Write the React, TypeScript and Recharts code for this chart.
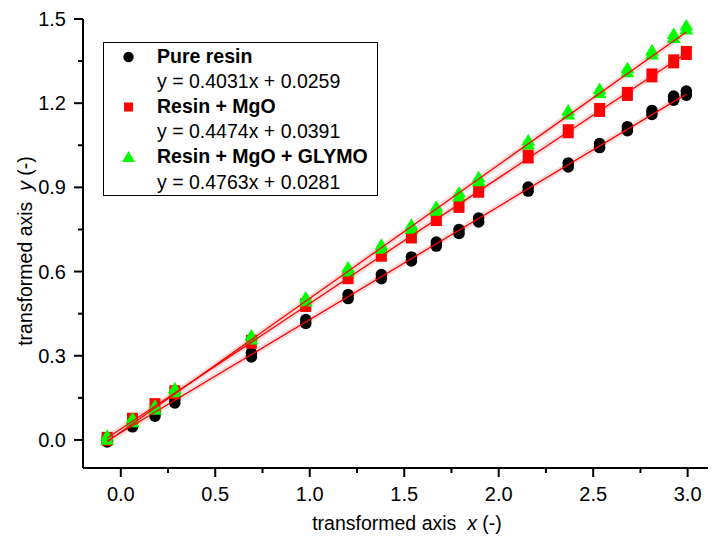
import { ScatterChart, Scatter, XAxis, YAxis, Legend } from "recharts";

const xValues = [-0.072, 0.062, 0.181, 0.286, 0.691, 0.979, 1.203, 1.379, 1.538, 1.67, 1.79, 1.894, 2.156, 2.368, 2.534, 2.681, 2.811, 2.926, 2.993];
const pureResin = [0.0, 0.054, 0.092, 0.139, 0.303, 0.422, 0.511, 0.582, 0.645, 0.698, 0.743, 0.784, 0.894, 0.98, 1.049, 1.109, 1.167, 1.218, 1.236];
const resinMgO = [0.004, 0.072, 0.124, 0.17, 0.35, 0.481, 0.58, 0.66, 0.725, 0.787, 0.834, 0.888, 1.01, 1.1, 1.176, 1.233, 1.299, 1.349, 1.379];
const resinMgOGlymo = [0.006, 0.068, 0.113, 0.175, 0.363, 0.499, 0.606, 0.687, 0.758, 0.822, 0.873, 0.927, 1.058, 1.165, 1.242, 1.316, 1.379, 1.438, 1.468];

const seriesNames = ["Pure resin", "Resin + MgO", "Resin + MgO + GLYMO"];
const fitSlopes = [0.4031, 0.4474, 0.4763];
const fitIntercepts = [0.0259, 0.0391, 0.0281];

const xMajorTicks = [0, 0.5, 1.0, 1.5, 2.0, 2.5, 3.0];
const xMinorTicks = [0.25, 0.75, 1.25, 1.75, 2.25, 2.75];
const yMajorTicks = [0, 0.3, 0.6, 0.9, 1.2, 1.5];
const yMinorTicks = [0.15, 0.45, 0.75, 1.05, 1.35];

const FONT = "Arial, 'Liberation Sans', sans-serif";
const PLOT_LEFT = 75;
const PLOT_BOTTOM = 460;

const toPoints = (ys: number[]) => xValues.map((x, i) => ({ x, y: ys[i] }));
const fitLine = (k: number) => {
  const x0 = xValues[0];
  const x1 = xValues[xValues.length - 1];
  return [
    { x: x0, y: fitSlopes[k] * x0 + fitIntercepts[k] },
    { x: x1, y: fitSlopes[k] * x1 + fitIntercepts[k] },
  ];
};

const isMajor = (v: number, majors: number[]) => majors.some((m) => Math.abs(m - v) < 1e-6);

function XTick({ x, payload }: any) {
  const major = isMajor(payload.value, xMajorTicks);
  return (
    <g>
      <line x1={x} x2={x} y1={PLOT_BOTTOM} y2={PLOT_BOTTOM + (major ? 9 : 5)} stroke="#000" strokeWidth={2} />
      {major && (
        <text x={x} y={492.5} textAnchor="middle" fontSize={20} fontFamily={FONT} fill="#000">
          {payload.value.toFixed(1)}
        </text>
      )}
    </g>
  );
}

function YTick({ y, payload }: any) {
  const major = isMajor(payload.value, yMajorTicks);
  return (
    <g>
      <line x1={PLOT_LEFT - (major ? 9 : 5)} x2={PLOT_LEFT} y1={y} y2={y} stroke="#000" strokeWidth={2} />
      {major && (
        <text x={PLOT_LEFT - 17} y={y} dy="0.35em" textAnchor="end" fontSize={20} fontFamily={FONT} fill="#000">
          {payload.value.toFixed(1)}
        </text>
      )}
    </g>
  );
}

// paired replicates make each marker slightly taller than wide
const Circles = ({ cx, cy }: any) => (
  <g fill="#000">
    <circle cx={cx} cy={cy - 2} r={5.8} />
    <circle cx={cx} cy={cy + 2} r={5.8} />
  </g>
);
const Squares = ({ cx, cy }: any) => <rect x={cx - 5.5} y={cy - 7} width={11} height={14} fill="#ff0000" />;
const Triangles = ({ cx, cy }: any) => (
  <g fill="#00ff00">
    <path d={`M${cx},${cy - 9} L${cx + 7},${cy + 2.5} L${cx - 7},${cy + 2.5}Z`} />
    <path d={`M${cx},${cy - 5} L${cx + 7},${cy + 6.5} L${cx - 7},${cy + 6.5}Z`} />
  </g>
);
const NoDot = () => <g />;

const legendSymbols = [
  <circle cx={8} cy={8} r={5.2} fill="#000" />,
  <rect x={3.5} y={3.5} width={9} height={9} fill="#ff0000" />,
  <path d="M8,2 L14.5,13 L1.5,13Z" fill="#00ff00" />,
];

function LegendBox() {
  const rowStyle = { height: 25.1, display: "flex", alignItems: "center" } as const;
  return (
    <div
      style={{
        width: 275,
        height: 154,
        boxSizing: "border-box",
        border: "1px solid #000",
        background: "#fff",
        paddingTop: 1,
        fontFamily: FONT,
        fontSize: 19.5,
        color: "#000",
      }}
    >
      {seriesNames.map((name, i) => (
        <div key={name}>
          <div style={rowStyle}>
            <svg width={53} height={16} style={{ flex: "none" }}>
              <g transform="translate(16.5,0)">{legendSymbols[i]}</g>
            </svg>
            <span style={{ fontWeight: "bold", whiteSpace: "nowrap" }}>{name}</span>
          </div>
          <div style={{ ...rowStyle, paddingLeft: 53 }}>
            <span style={{ whiteSpace: "nowrap" }}>
              y = {fitSlopes[i].toFixed(4)}x + {fitIntercepts[i].toFixed(4)}
            </span>
          </div>
        </div>
      ))}
    </div>
  );
}

export default function App() {
  const bandStyle = { stroke: "#ffdcdc", strokeWidth: 6 };
  const lineStyle = { stroke: "#ff0000", strokeWidth: 1.3 };
  return (
    <ScatterChart width={708} height={529} margin={{ top: 11, right: 0, bottom: 0, left: 0 }}>
      <XAxis
        type="number"
        dataKey="x"
        domain={[-0.2, 3.15]}
        allowDataOverflow
        ticks={[...xMajorTicks, ...xMinorTicks]}
        interval={0}
        height={69}
        tickLine={false}
        tick={<XTick />}
        axisLine={{ stroke: "#000", strokeWidth: 2 }}
        label={{
          content: () => (
            <text x={399} y={522} textAnchor="middle" fontSize={19.5} fontFamily={FONT} fill="#000" style={{ whiteSpace: "pre" }}>
              transformed axis  <tspan fontStyle="italic">x</tspan> (-)
            </text>
          ),
        }}
      />
      <XAxis xAxisId="top" orientation="top" type="number" domain={[-0.2, 3.15]} height={0} tick={false} tickLine={false} axisLine={{ stroke: "#000", strokeWidth: 2 }} />
      <YAxis
        type="number"
        dataKey="y"
        domain={[-0.1, 1.5]}
        allowDataOverflow
        ticks={[...yMajorTicks, ...yMinorTicks]}
        interval={0}
        width={75}
        tickLine={false}
        tick={<YTick />}
        axisLine={{ stroke: "#000", strokeWidth: 2 }}
        label={{
          content: () => (
            <text transform="rotate(-90)" x={-243} y={24} textAnchor="middle" fontSize={19.5} fontFamily={FONT} fill="#000" style={{ whiteSpace: "pre" }}>
              transformed axis  <tspan fontStyle="italic">y</tspan> (-)
            </text>
          ),
        }}
      />
      <Legend
        verticalAlign="middle"
        align="center"
        layout="horizontal"
        wrapperStyle={{ position: "absolute", left: 95, top: 34, width: 275, height: 154 }}
        content={() => <LegendBox />}
      />
      {[0, 1, 2].map((k) => (
        <Scatter key={`band${k}`} data={fitLine(k)} line={bandStyle} shape={<NoDot />} legendType="none" isAnimationActive={false} />
      ))}
      <Scatter name={seriesNames[0]} data={toPoints(pureResin)} shape={<Circles />} isAnimationActive={false} />
      <Scatter name={seriesNames[1]} data={toPoints(resinMgO)} shape={<Squares />} isAnimationActive={false} />
      <Scatter name={seriesNames[2]} data={toPoints(resinMgOGlymo)} shape={<Triangles />} isAnimationActive={false} />
      {[0, 1, 2].map((k) => (
        <Scatter key={`fit${k}`} data={fitLine(k)} line={lineStyle} shape={<NoDot />} legendType="none" isAnimationActive={false} />
      ))}
    </ScatterChart>
  );
}
